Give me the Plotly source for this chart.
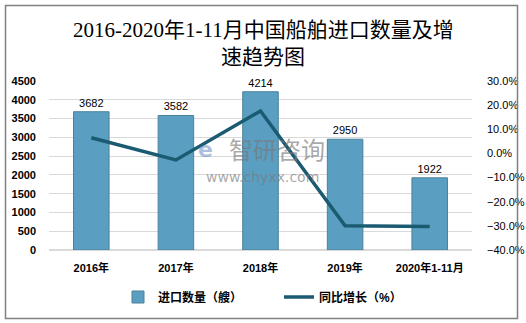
import plotly.graph_objects as go

categories = ["2016年", "2017年", "2018年", "2019年", "2020年1-11月"]
import_qty = [3682, 3582, 4214, 2950, 1922]
growth_pct = [6.5, -2.7, 17.6, -30.0, -30.3]
title_lines = ["2016-2020年1-11月中国船舶进口数量及增", "速趋势图"]

W, H = 526, 323
ML, MR, MT, MB = 49, 54, 81, 73
pw, ph = W - ML - MR, H - MT - MB

def px(x):
    return (x - ML) / pw

def py(y):
    return (H - MB - y) / ph

fig = go.Figure()
fig.add_trace(go.Bar(
    x=categories, y=import_qty, name="进口数量（艘）",
    marker=dict(color="#5a9fc2", line=dict(color="#4b8199", width=1)),
    text=[str(v) for v in import_qty], textposition="outside",
    textfont=dict(size=11, color="#000000", family="Liberation Sans, Noto Sans CJK SC"),
    width=0.42, cliponaxis=False,
))
fig.add_trace(go.Scatter(
    x=categories, y=growth_pct, name="同比增长（%）", yaxis="y2",
    mode="lines", line=dict(color="#1b5b72", width=3.5),
))

fig.update_layout(
    width=W, height=H,
    margin=dict(l=ML, r=MR, t=MT, b=MB, autoexpand=False),
    paper_bgcolor="white", plot_bgcolor="white",
    font=dict(family="Liberation Sans, Noto Sans CJK SC", size=11, color="#000000"),
    xaxis=dict(showgrid=False, showline=False, ticks="", ticklabelstandoff=10,
               tickfont=dict(size=11, color="#000000", weight="bold")),
    yaxis=dict(range=[0, 4500], dtick=500, showgrid=True, gridcolor="#d9d9d9",
               gridwidth=1, zeroline=True, zerolinecolor="#d9d9d9", showline=False,
               ticks="", ticklabelstandoff=12,
               tickfont=dict(size=11, color="#000000", weight="bold")),
    yaxis2=dict(range=[-40, 30], dtick=10, overlaying="y", side="right",
                showgrid=False, zeroline=False, showline=False, ticks="",
                tickformat=".1f", ticksuffix="%", ticklabelstandoff=14,
                tickfont=dict(size=11, color="#000000")),
    showlegend=True,
    legend=dict(orientation="h", x=px(118), xanchor="left", y=py(297), yanchor="middle",
                font=dict(size=12, color="#000000", weight="bold"),
                itemwidth=30, entrywidthmode="pixels", entrywidth=116),
)

# title as two centred lines
for i, line in enumerate(title_lines):
    fig.add_annotation(text=line, xref="paper", yref="paper", x=px(263), y=py(30 + 27 * i),
                       xanchor="center", yanchor="middle", showarrow=False,
                       font=dict(family="Liberation Serif, Noto Sans CJK SC", size=21,
                                 color="#000000"))

# watermark
fig.add_annotation(text="智研咨询", xref="paper", yref="paper", x=px(277), y=py(148),
                   showarrow=False, font=dict(size=24, color="rgba(120,120,120,0.65)",
                                                family="Noto Sans CJK SC"))
fig.add_annotation(text="www.chyxx.com", xref="paper", yref="paper", x=px(262), y=py(177),
                   showarrow=False, font=dict(size=14, color="rgba(120,120,120,0.65)",
                                                family="DejaVu Sans"))
fig.add_annotation(text="<b>e</b>", xref="paper", yref="paper", x=px(205), y=py(149),
                   showarrow=False, font=dict(size=22, color="rgba(90,130,190,0.5)",
                                                family="DejaVu Sans"))

# outer border
fig.add_shape(type="rect", xref="paper", yref="paper",
              x0=px(5.5), x1=px(517.5), y0=py(318.5), y1=py(5.5),
              line=dict(color="#808080", width=1.5), layer="above")

fig.write_html("out.html")
